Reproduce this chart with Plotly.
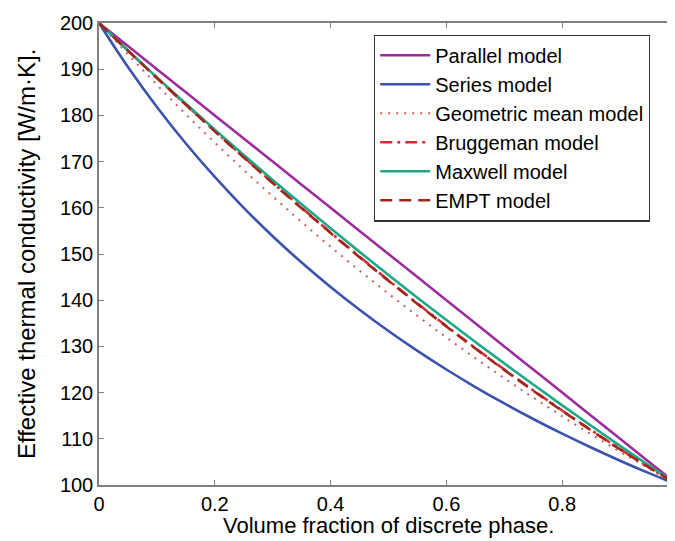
import plotly.graph_objects as go

x_frac = [0.0, 0.05, 0.1, 0.15, 0.2, 0.25, 0.3, 0.35, 0.4, 0.45, 0.5,
          0.55, 0.6, 0.65, 0.7, 0.75, 0.8, 0.85, 0.9, 0.95, 1.0]

parallel = [200, 195, 190, 185, 180, 175, 170, 165, 160, 155, 150,
            145, 140, 135, 130, 125, 120, 115, 110, 105, 100]
series = [200, 190.48, 181.82, 173.91, 166.67, 160.0, 153.85, 148.15, 142.86, 137.93, 133.33,
          129.03, 125.0, 121.21, 117.65, 114.29, 111.11, 108.11, 105.26, 102.56, 100]
geometric = [200, 193.23, 186.61, 180.25, 174.11, 168.18, 162.45, 156.92, 151.57, 146.41, 141.42,
             136.60, 131.95, 127.46, 123.11, 118.92, 114.87, 110.96, 107.18, 103.53, 100]
bruggeman = [200, 194.04, 188.15, 182.34, 176.62, 170.98, 165.44, 160.0, 154.66, 149.42, 144.30,
             139.29, 134.40, 129.64, 125.0, 120.49, 116.12, 111.88, 107.78, 103.82, 100]
maxwell = [200, 194.06, 188.24, 182.52, 176.92, 171.43, 166.04, 160.75, 155.56, 150.46, 145.45,
           140.54, 135.71, 130.97, 126.32, 121.74, 117.24, 112.82, 108.47, 104.20, 100]
empt = [200, 194.0, 188.1, 182.3, 176.55, 170.9, 165.35, 159.9, 154.55, 149.3, 144.2,
        139.2, 134.3, 129.55, 124.9, 120.4, 116.05, 111.8, 107.7, 103.8, 100]

names = ["Parallel model", "Series model", "Geometric mean model",
         "Bruggeman model", "Maxwell model", "EMPT model"]
x_ticks = [0, 0.2, 0.4, 0.6, 0.8, 1]
x_tick_labels = ["0", "0.2", "0.4", "0.6", "0.8", "1"]
y_ticks = [100, 110, 120, 130, 140, 150, 160, 170, 180, 190, 200]
x_title = "Volume fraction of discrete phase."
y_title = "Effective thermal conductivity [W/m·K]."

styles = [
    dict(color="#9a2c9e", width=2.6, dash="solid"),
    dict(color="#3b53ad", width=2.6, dash="solid"),
    dict(color="#c4625e", width=2, dash="2px,6px"),
    dict(color="#d92b36", width=2.6, dash="12px,5px,3px,5px"),
    dict(color="#1fa887", width=2.6, dash="solid"),
    dict(color="#a3261b", width=2.6, dash="12px,7px"),
]
data = [parallel, series, geometric, bruggeman, maxwell, empt]

fig = go.Figure()
for name, ys, st in zip(names, data, styles):
    fig.add_trace(go.Scatter(x=x_frac, y=ys, mode="lines", name=name,
                             line=dict(shape="spline", **st)))

font_family = "Liberation Sans, Arial, sans-serif"
fig.update_layout(
    width=675, height=541,
    margin=dict(l=91, r=3, t=15, b=64),
    plot_bgcolor="white", paper_bgcolor="white",
    font=dict(family=font_family, size=20, color="black"),
    showlegend=True,
    legend=dict(x=0.475, y=0.975, xanchor="left", yanchor="top",
                bgcolor="white", bordercolor="#333", borderwidth=1.2,
                font=dict(size=20, family=font_family), itemwidth=50,
                tracegroupgap=0),
    annotations=[
        dict(text=x_title, xref="paper", yref="paper", x=0.5, y=-0.056,
             xanchor="center", yanchor="top", showarrow=False,
             font=dict(size=22, family=font_family, color="black")),
        dict(text=y_title, xref="paper", yref="paper", x=-0.126, y=0.5,
             xanchor="center", yanchor="middle", textangle=-90, showarrow=False,
             font=dict(size=24, family=font_family, color="black")),
    ],
)
fig.update_xaxes(range=[0, 1], tickvals=x_ticks, ticktext=x_tick_labels,
                 showgrid=False, zeroline=False, showline=True, linecolor="#808080",
                 linewidth=1.5, mirror="allticks", ticks="inside", ticklen=5,
                 tickcolor="#808080", tickfont=dict(size=20))
fig.update_yaxes(range=[100, 200], tickvals=y_ticks,
                 showgrid=False, zeroline=False, showline=True, linecolor="#808080",
                 linewidth=1.5, mirror="allticks", ticks="inside", ticklen=5,
                 tickcolor="#808080", tickfont=dict(size=20))

fig.write_html("out.html")
